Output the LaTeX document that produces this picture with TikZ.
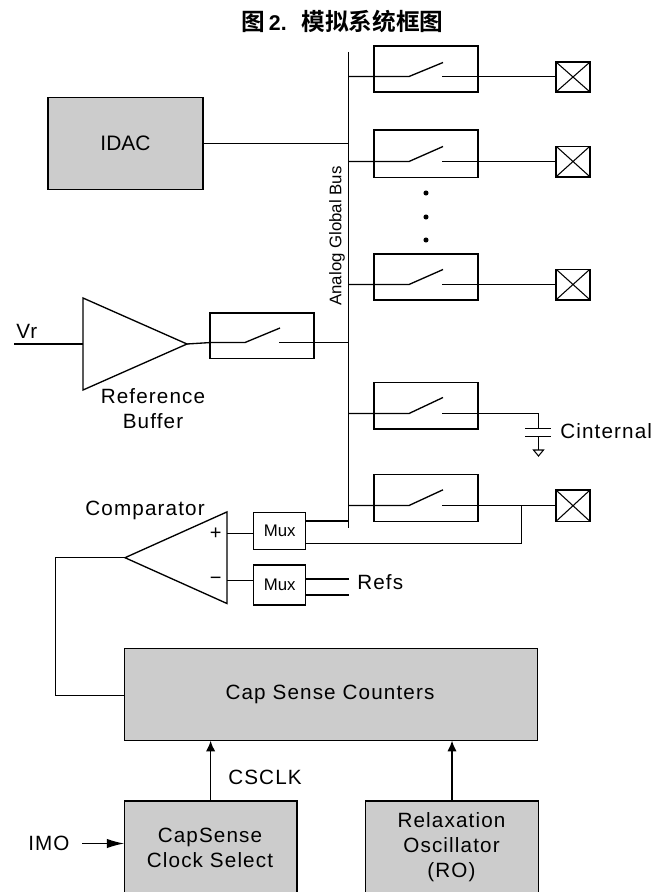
\documentclass[tikz,border=0pt]{standalone}
\usepackage{fontspec}
\setmainfont{Liberation Sans}
\newfontfamily\cjkfont{Noto Sans CJK SC}[BoldFont={Noto Sans CJK SC Bold}]
\newfontfamily\widefont[LetterSpace=5.5]{Liberation Sans}
\usetikzlibrary{arrows.meta,shapes.geometric}
\definecolor{blockgray}{HTML}{CCCCCC}
\tikzset{
  wire/.style={line width=1pt},
  block/.style={draw,line width=1.1pt,fill=blockgray,outer sep=0pt,inner sep=0pt},
  swbox/.style={draw,line width=1pt,outer sep=0pt,minimum width=78pt},
  muxbox/.style={draw,line width=1pt,outer sep=0pt,inner sep=0pt,minimum width=39pt,font=\fontsize{12.6}{14}\selectfont},
  portbox/.style={draw,line width=1pt,outer sep=0pt,minimum width=25.5pt,minimum height=23pt,
    path picture={\draw[line width=0.8pt] (path picture bounding box.south west)--(path picture bounding box.north east)
      (path picture bounding box.north west)--(path picture bounding box.south east);}},
  amp/.style={draw,line width=1pt,isosceles triangle,isosceles triangle stretches,outer sep=0pt,inner sep=0pt},
  txt/.style={inner sep=0pt,align=center,font=\fontsize{15.5}{18.7}\selectfont\widefont},
  sig/.style={wire,-{Latex[length=8pt,width=7pt]}}
}
\begin{document}
\begin{tikzpicture}[x=0.75pt,y=-0.75pt]
  \useasboundingbox (0,0) rectangle (662,892);
  \node[inner sep=0pt,anchor=west,font=\fontsize{17.75}{20}\selectfont\bfseries\cjkfont] (title) at (241,21) {图\hspace{3pt}{\fontsize{16}{20}\selectfont\fontspec{Liberation Sans Bold}2.}\hspace{11pt}模拟系统框图};

  % bus
  \coordinate (bustop) at (348.5,52);
  \coordinate (busend) at (348.5,528);
  \draw[line width=1.1pt] (bustop)--(busend);
  \node[rotate=90,inner sep=0pt,font=\fontsize{12.6}{15}\selectfont] (busname) at (337,236) {Analog Global Bus};

  \node[block,minimum width=116pt,minimum height=69pt,font=\fontsize{15.7}{18}\selectfont] (idac) at (125.5,143.5) {IDAC};
  \draw[wire] (idac.east)--(idac.east-|bustop);

  % switches on the bus
  \foreach \sw/\cy/\hgt/\ly/\rise in {a/69/34.5/76.5/14,b/153.5/35.5/161.5/15,c/277/34.5/284.5/15,d/405.7/35/413.5/16,e/497.8/35.2/505.5/15.7}{
    \node[swbox,minimum height=\hgt pt] (sw\sw) at (426,\cy) {};
    \coordinate (in\sw) at (348.5,\ly);
    \coordinate (out\sw) at (442,\ly);
    \draw[wire] (in\sw)--(409,\ly)--(443,\ly-\rise);
  }
  \foreach \y in {193,217,240}
    \fill (426,\y) circle (1.9pt);

  % pads
  \node[portbox,minimum height=22.5pt] (pada) at (573,77) {};
  \node[portbox] (padb) at (573,161.5) {};
  \node[portbox] (padc) at (573,284.5) {};
  \node[portbox,minimum height=23.5pt] (pade) at (573,505.7) {};
  \draw[wire] (outa)--(outa-|pada.west);
  \draw[wire] (outb)--(outb-|padb.west);
  \draw[wire] (outc)--(outc-|padc.west);
  \draw[wire] (oute)--(oute-|pade.west);

  % internal cap
  \coordinate (capjoint) at (538.5,413.5);
  \coordinate (capa) at (538.5,428.5);
  \coordinate (capb) at (538.5,436.5);
  \coordinate (gnd) at (538.5,450);
  \draw[wire] (outd)--(capjoint)--(capa);
  \draw[wire] (525,428.5)--(551,428.5);
  \draw[wire] (525,436.5)--(551,436.5);
  \draw[wire] (capb)--(gnd);
  \draw[line width=0.8pt] (533.5,450)--(543.5,450)--(538.5,456)--cycle;
  \node[txt,anchor=west] (cint) at (560,430.7) {Cinternal};

  % reference buffer
  \node[amp,minimum width=69pt,minimum height=78pt,anchor=apex] (buf) at (187,344) {};
  \coordinate (vr) at (14,344);
  \draw[wire] (vr)--(vr-|buf.lower side);
  \node[txt,anchor=base west] (vrname) at (16,338) {Vr};
  \node[txt] (bufname) at (153,409) {Reference\\Buffer};
  \node[swbox,minimum height=34pt] (swr) at (262,335.5) {};
  \coordinate (inr) at (211,342.5);
  \coordinate (outr) at (279,342.5);
  \draw[wire] (buf.apex)--(inr)--(245,342.5)--(280,328);
  \draw[wire] (outr)--(outr-|bustop);

  % comparator
  \node[amp,shape border rotate=180,minimum width=68.7pt,minimum height=76.5pt,anchor=apex] (comp) at (125,557.7) {};
  \node[txt,anchor=east] (compname) at (205,510) {Comparator};
  \node[inner sep=0pt,font=\fontsize{15}{17}\selectfont] (plus) at (215.7,534) {+};
  \node[inner sep=0pt,font=\fontsize{15}{17}\selectfont] (minus) at (215.7,580.5) {−};
  \node[muxbox,minimum height=27.5pt] (muxp) at (279.7,531) {Mux};
  \node[muxbox,minimum height=30pt] (muxn) at (279.7,585) {Mux};
  \coordinate (inp) at (227,533.5);
  \coordinate (inn) at (227,580.5);
  \draw[wire] (inp)--(inp-|muxp.west);
  \draw[wire] (inn)--(inn-|muxn.west);
  \draw[wire] (muxp.east|-0,521)--(bustop|-0,521);
  \coordinate (tap) at (521.5,505.5);
  \draw[wire] (tap)--(521.5,543.5)--(muxp.east|-0,543.5);
  \draw[wire] (muxn.east|-0,579)--(348.5,579);
  \draw[wire] (muxn.east|-0,595)--(348.5,595);
  \node[txt,anchor=west] (refs) at (357,581.7) {Refs};

  % counters and clocks
  \node[block,minimum width=310pt,minimum height=69pt] (cnt) at (331,694.7) {};
  \node[txt] (cntname) at (330,694) {Cap Sense Counters};
  \draw[wire] (comp.apex)--(55.5,557.7)--(55.5,695.5)--(cnt.west|-0,695.5);
  \node[block,minimum width=129.5pt,minimum height=80pt,anchor=north] (clk) at (210.6,801) {};
  \node[txt] (clkname) at (210,847.5) {CapSense\\Clock Select};
  \node[block,minimum width=129.5pt,minimum height=80pt,anchor=north] (ro) at (452,801) {};
  \node[txt] (roname) at (451.5,847.5) {Relaxation\\Oscillator\\(RO)};
  \draw[sig,line width=1.1pt] (clk.north)--(clk.north|-cnt.south);
  \draw[sig] (ro.north)--(ro.north|-cnt.south);
  \node[txt,anchor=west] (csclk) at (228,777) {CSCLK};
  \node[txt,anchor=west] (imo) at (28,843) {IMO};
  \coordinate (imoin) at (82,843.5);
  \draw[wire,-{Latex[length=13pt,width=7pt]}] (imoin)--(imoin-|clk.west);
\end{tikzpicture}
\end{document}
